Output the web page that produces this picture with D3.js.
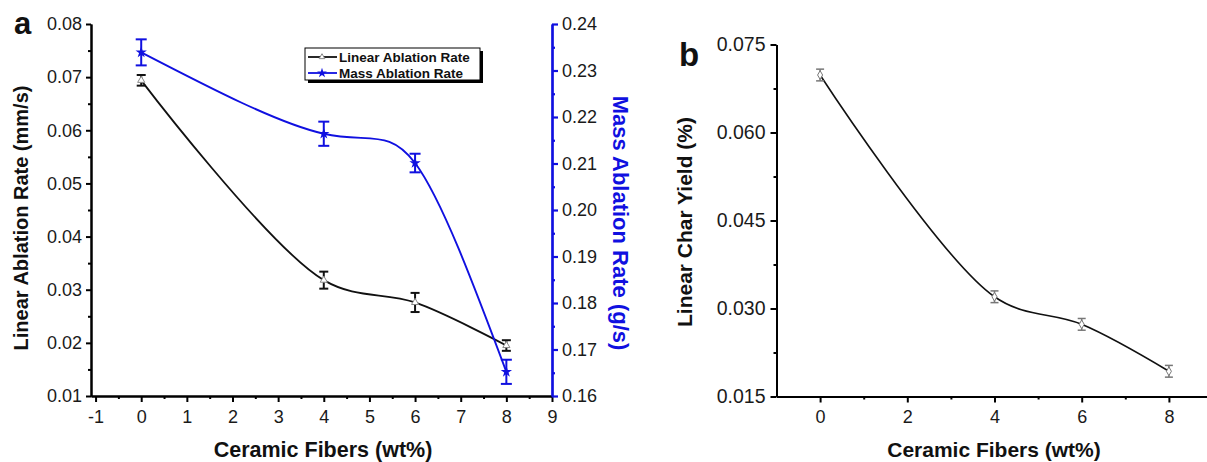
<!DOCTYPE html>
<html>
<head>
<meta charset="utf-8">
<script src="https://cdn.jsdelivr.net/npm/d3@7"></script>
<style>
  html, body { margin: 0; padding: 0; background: #fff; }
  svg { display: block; }
  text { font-family: Arial, "Liberation Sans", sans-serif; }
</style>
</head>
<body>
<svg id="chart" width="1207" height="462"></svg>
<script>
// ---------------- data ----------------
const fibers = [0, 4, 6, 8];
const linearRate = [0.0694, 0.0318, 0.0276, 0.0195];
const linearRateErr = [0.0010, 0.0016, 0.0018, 0.0010];
const massRate = [0.2339, 0.2164, 0.2101, 0.1652];
const massRateErr = [0.0028, 0.0026, 0.0020, 0.0026];
const charYield = [0.0698, 0.0320, 0.0273, 0.0193];
const charYieldErr = [0.0010, 0.0010, 0.0010, 0.0010];

const xTicksA = [-1, 0, 1, 2, 3, 4, 5, 6, 7, 8, 9];
const yTicksLeftA = [0.01, 0.02, 0.03, 0.04, 0.05, 0.06, 0.07, 0.08];
const yTicksRightA = [0.16, 0.17, 0.18, 0.19, 0.20, 0.21, 0.22, 0.23, 0.24];
const xTicksB = [0, 2, 4, 6, 8];
const yTicksB = [0.015, 0.030, 0.045, 0.060, 0.075];

const legendLabels = ["Linear Ablation Rate", "Mass Ablation Rate"];

// ---------------- setup ----------------
const svg = d3.select("#chart");
const BLUE = "#1010e0";
const intFmt = d => String(d);

function mids(arr) {
  const out = [];
  for (let i = 0; i < arr.length - 1; i++) out.push((arr[i] + arr[i + 1]) / 2);
  return out;
}

function styleAxis(g, color, width, fs) {
  g.select(".domain").attr("stroke", color).attr("stroke-width", width);
  g.selectAll(".tick line").attr("stroke", color).attr("stroke-width", width);
  g.selectAll(".tick text").attr("fill", "#1a1a1a").style("font-size", (fs || 18) + "px")
    .style("font-family", "Arial, 'Liberation Sans', sans-serif");
}

// ================= Chart a =================
const xA = d3.scaleLinear().domain([-1.1, 9]).range([91, 552]);
const yAL = d3.scaleLinear().domain([0.01, 0.08]).range([396, 24]);
const yAR = d3.scaleLinear().domain([0.16, 0.24]).range([396, 24]);

// bottom axis
const gxA = svg.append("g").attr("transform", "translate(0,396)");
gxA.call(d3.axisBottom(xA).tickValues(xTicksA).tickFormat(intFmt).tickSize(6).tickSizeOuter(0).tickPadding(8));
styleAxis(gxA, "#000", 2);
const gxAm = svg.append("g").attr("transform", "translate(0,396)");
gxAm.call(d3.axisBottom(xA).tickValues(mids(xTicksA)).tickFormat("").tickSize(3).tickSizeOuter(0));
styleAxis(gxAm, "#000", 2);

// left axis
const gyA = svg.append("g").attr("transform", "translate(91,0)");
gyA.call(d3.axisLeft(yAL).tickValues(yTicksLeftA).tickFormat(d3.format(".2f")).tickSize(5).tickSizeOuter(0).tickPadding(4));
styleAxis(gyA, "#000", 2);
const gyAm = svg.append("g").attr("transform", "translate(91,0)");
gyAm.call(d3.axisLeft(yAL).tickValues(mids(yTicksLeftA)).tickFormat("").tickSize(3).tickSizeOuter(0));
styleAxis(gyAm, "#000", 2);

// right axis (blue)
const gyR = svg.append("g").attr("transform", "translate(552,0)");
gyR.call(d3.axisRight(yAR).tickValues(yTicksRightA).tickFormat(d3.format(".2f")).tickSize(6).tickSizeOuter(0).tickPadding(4));
styleAxis(gyR, BLUE, 2.2);
const gyRm = svg.append("g").attr("transform", "translate(552,0)");
gyRm.call(d3.axisRight(yAR).tickValues(mids(yTicksRightA)).tickFormat("").tickSize(3).tickSizeOuter(0));
styleAxis(gyRm, BLUE, 2.2);

// curves
const linData = fibers.map((x, i) => ({ x, y: linearRate[i], e: linearRateErr[i] }));
const massData = fibers.map((x, i) => ({ x, y: massRate[i], e: massRateErr[i] }));
const charData = fibers.map((x, i) => ({ x, y: charYield[i], e: charYieldErr[i] }));

svg.append("path").datum(linData)
  .attr("d", d3.line().x(d => xA(d.x)).y(d => yAL(d.y)).curve(d3.curveCatmullRom.alpha(0.5)))
  .attr("fill", "none").attr("stroke", "#111").attr("stroke-width", 1.8);
svg.append("path").datum(massData)
  .attr("d", d3.line().x(d => xA(d.x)).y(d => yAR(d.y)).curve(d3.curveNatural))
  .attr("fill", "none").attr("stroke", BLUE).attr("stroke-width", 1.9);

function errorBars(data, xs, ys, color, cap, sw) {
  const g = svg.append("g");
  data.forEach(d => {
    const x = xs(d.x), y1 = ys(d.y - d.e), y2 = ys(d.y + d.e);
    g.append("line").attr("x1", x).attr("x2", x).attr("y1", y1).attr("y2", y2)
      .attr("stroke", color).attr("stroke-width", sw);
    [y1, y2].forEach(yy => g.append("line").attr("x1", x - cap / 2).attr("x2", x + cap / 2)
      .attr("y1", yy).attr("y2", yy).attr("stroke", color).attr("stroke-width", sw));
  });
}
errorBars(linData, xA, yAL, "#111", 9, 2);
errorBars(massData, xA, yAR, BLUE, 11, 2);

// markers
svg.append("g").selectAll("path").data(linData).join("path")
  .attr("transform", d => `translate(${xA(d.x)},${yAL(d.y)})`)
  .attr("d", d3.symbol(d3.symbolTriangle, 22))
  .attr("fill", "#fff").attr("stroke", "#888").attr("stroke-width", 1);
svg.append("g").selectAll("path").data(massData).join("path")
  .attr("transform", d => `translate(${xA(d.x)},${yAR(d.y)})`)
  .attr("d", d3.symbol(d3.symbolStar, 40))
  .attr("fill", BLUE).attr("stroke", "none");

// axis titles
svg.append("text").attr("x", 14).attr("y", 34).text("a")
  .style("font-size", "31px").style("font-weight", "bold").attr("fill", "#111");
svg.append("text").attr("transform", "translate(28,218) rotate(-90)")
  .attr("text-anchor", "middle").text("Linear Ablation Rate (mm/s)")
  .style("font-size", "20px").style("font-weight", "bold").attr("fill", "#111");
svg.append("text").attr("transform", "translate(613,223) rotate(90)")
  .attr("text-anchor", "middle").text("Mass Ablation Rate (g/s)")
  .style("font-size", "22px").style("font-weight", "bold").attr("fill", BLUE);
svg.append("text").attr("x", 323).attr("y", 457).attr("text-anchor", "middle")
  .text("Ceramic Fibers (wt%)")
  .style("font-size", "21.5px").style("font-weight", "bold").attr("fill", "#111");

// legend
const lg = svg.append("g");
lg.append("rect").attr("x", 308).attr("y", 51).attr("width", 175).attr("height", 32).attr("fill", "#000");
lg.append("rect").attr("x", 305).attr("y", 48).attr("width", 175).attr("height", 32)
  .attr("fill", "#fff").attr("stroke", "#000").attr("stroke-width", 1);
const legendItems = [
  { label: legendLabels[0], color: "#111", sym: d3.symbolTriangle, fill: "#fff", stroke: "#888", size: 14 },
  { label: legendLabels[1], color: BLUE, sym: d3.symbolStar, fill: BLUE, stroke: "none", size: 30 }
];
legendItems.forEach((it, i) => {
  const yy = 57 + i * 16;
  lg.append("line").attr("x1", 308).attr("x2", 337).attr("y1", yy).attr("y2", yy)
    .attr("stroke", it.color).attr("stroke-width", 1.8);
  lg.append("path").attr("transform", `translate(322,${yy})`)
    .attr("d", d3.symbol(it.sym, it.size)).attr("fill", it.fill).attr("stroke", it.stroke);
  lg.append("text").attr("x", 339).attr("y", yy + 5).text(it.label)
    .style("font-size", "13.5px").style("font-weight", "bold").attr("fill", "#111");
});

// ================= Chart b =================
const xB = d3.scaleLinear().domain([-1, 9]).range([776.5, 1212.5]);
const yB = d3.scaleLinear().domain([0.015, 0.075]).range([396.5, 44.5]);

const gxB = svg.append("g").attr("transform", "translate(0,396.5)");
gxB.call(d3.axisBottom(xB).tickValues(xTicksB).tickFormat(intFmt).tickSize(6).tickSizeOuter(0).tickPadding(8));
styleAxis(gxB, "#000", 2);
const gxBm = svg.append("g").attr("transform", "translate(0,396.5)");
gxBm.call(d3.axisBottom(xB).tickValues([1, 3, 5, 7]).tickFormat("").tickSize(3).tickSizeOuter(0));
styleAxis(gxBm, "#000", 2);

const gyB = svg.append("g").attr("transform", "translate(776.5,0)");
gyB.call(d3.axisLeft(yB).tickValues(yTicksB).tickFormat(d3.format(".3f")).tickSize(6).tickSizeOuter(0).tickPadding(5));
styleAxis(gyB, "#000", 2, 19.5);
const gyBm = svg.append("g").attr("transform", "translate(776.5,0)");
gyBm.call(d3.axisLeft(yB).tickValues(mids(yTicksB)).tickFormat("").tickSize(3).tickSizeOuter(0));
styleAxis(gyBm, "#000", 2);

svg.append("path").datum(charData)
  .attr("d", d3.line().x(d => xB(d.x)).y(d => yB(d.y)).curve(d3.curveCatmullRom.alpha(0.5)))
  .attr("fill", "none").attr("stroke", "#111").attr("stroke-width", 1.6);
errorBars(charData, xB, yB, "#777", 8, 1.5);
svg.append("g").selectAll("path").data(charData).join("path")
  .attr("transform", d => `translate(${xB(d.x)},${yB(d.y)})`)
  .attr("d", d3.symbol(d3.symbolDiamond, 22))
  .attr("fill", "#fff").attr("stroke", "#777").attr("stroke-width", 1);

svg.append("text").attr("x", 679).attr("y", 66).text("b")
  .style("font-size", "33px").style("font-weight", "bold").attr("fill", "#111");
svg.append("text").attr("transform", "translate(692,222) rotate(-90)")
  .attr("text-anchor", "middle").text("Linear Char Yield (%)")
  .style("font-size", "21px").style("font-weight", "bold").attr("fill", "#111");
svg.append("text").attr("x", 994).attr("y", 457).attr("text-anchor", "middle")
  .text("Ceramic Fibers (wt%)")
  .style("font-size", "21px").style("font-weight", "bold").attr("fill", "#111");
</script>
</body>
</html>
